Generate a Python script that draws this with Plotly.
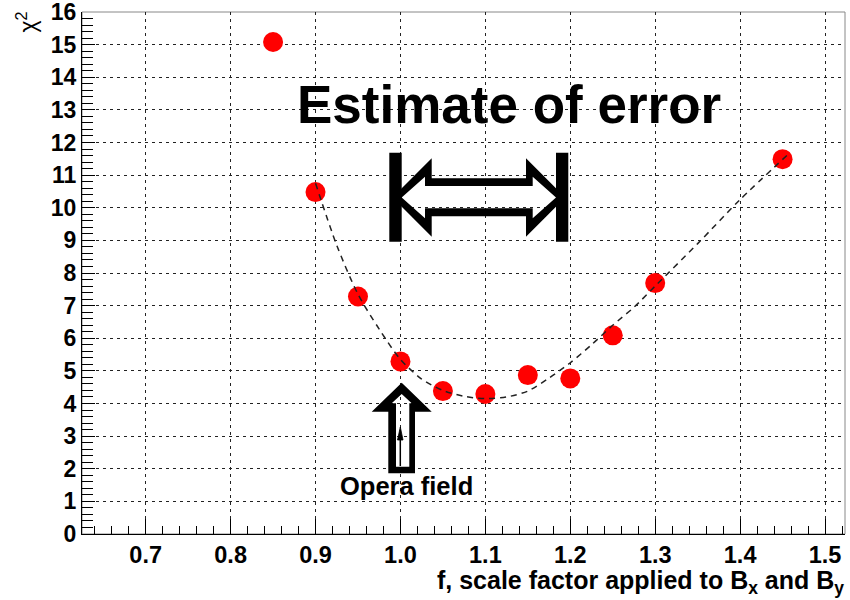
import plotly.graph_objects as go

# ---- data ----
f_points = [0.85, 0.90, 0.95, 1.00, 1.05, 1.10, 1.15, 1.20, 1.25, 1.30, 1.45]
chi2_points = [15.08, 10.48, 7.28, 5.29, 4.38, 4.29, 4.87, 4.77, 6.09, 7.69, 11.49]

fit_f = [0.90, 0.925, 0.95, 0.975, 1.00, 1.025, 1.05, 1.075, 1.10, 1.125, 1.15,
         1.175, 1.20, 1.225, 1.25, 1.275, 1.30, 1.35, 1.40, 1.455]
fit_chi2 = [10.75, 8.85, 7.35, 6.28, 5.35, 4.75, 4.40, 4.22, 4.15, 4.20, 4.38,
            4.78, 5.25, 5.80, 6.40, 6.95, 7.60, 8.90, 10.25, 11.60]

x_tick_vals = [0.7, 0.8, 0.9, 1.0, 1.1, 1.2, 1.3, 1.4, 1.5]
x_tick_text = ["0.7", "0.8", "0.9", "1.0", "1.1", "1.2", "1.3", "1.4", "1.5"]
y_tick_vals = list(range(0, 17))
y_tick_text = [str(v) for v in y_tick_vals]

# ---- layout geometry (reference pixels) ----
L, R, T, B = 82, 845, 12, 534
X_RANGE = [0.625, 1.5235]
Y_RANGE = [0, 16]


def X(px):
    return X_RANGE[0] + (px - L) / (R - L) * (X_RANGE[1] - X_RANGE[0])


def Y(py):
    return (B - py) / (B - T) * (Y_RANGE[1] - Y_RANGE[0])


def PX(px):
    return (px - L) / (R - L)


def PY(py):
    return (B - py) / (B - T)


def poly(points):
    return "M " + " L ".join(f"{X(a):.5f},{Y(b):.5f}" for a, b in points) + " Z"


FONT = "Liberation Sans, Arial, Helvetica, sans-serif"

fig = go.Figure()

fig.add_trace(go.Scatter(
    x=f_points, y=chi2_points, mode="markers",
    marker=dict(color="#ff0000", size=20, line=dict(width=0)),
    hoverinfo="skip", showlegend=False))

fig.add_trace(go.Scatter(
    x=fit_f, y=fit_chi2, mode="lines",
    line=dict(color="#222222", width=1.5, dash="6px,5px", shape="spline", smoothing=0.8),
    hoverinfo="skip", showlegend=False))

shapes = []
# frame (top/right gray)
shapes.append(dict(type="rect", xref="paper", yref="paper", x0=0, x1=1, y0=0, y1=1,
                   line=dict(color="#888888", width=1), layer="below"))

# thick end bars
for x0, x1 in [(389.3, 401.7), (556.0, 568.3)]:
    shapes.append(dict(type="rect", xref="x", yref="y",
                       x0=X(x0), x1=X(x1), y0=Y(241.7), y1=Y(152.7),
                       fillcolor="black", line=dict(width=0), layer="above"))

# double arrow outline: outer silhouette + inner hole (reverse orientation)
outer = [(392.5, 197.5), (431.7, 158.3), (431.7, 178.3), (526.0, 178.3), (526.0, 158.3),
         (565.2, 197.5), (526.0, 236.7), (526.0, 216.3), (431.7, 216.3), (431.7, 236.7)]
inner = [(401.7, 197.5), (425.0, 176.7), (425.0, 186.0), (532.7, 186.0), (532.7, 176.7),
         (556.0, 197.5), (532.7, 218.3), (532.7, 208.3), (425.0, 208.3), (425.0, 218.3)]
shapes.append(dict(type="path", xref="x", yref="y",
                   path=poly(outer) + " " + poly(inner[::-1]),
                   fillcolor="black", line=dict(width=0), layer="above"))

# upward arrow outline
up_outer = [(401.7, 382.7), (431.7, 411.7), (415.0, 411.7), (415.0, 473.3),
            (388.3, 473.3), (388.3, 411.7), (371.7, 411.7)]
up_inner = [(401.7, 394.0), (411.7, 403.3), (409.3, 403.3), (409.3, 466.7),
            (396.0, 466.7), (396.0, 403.3), (391.7, 403.3)]
shapes.append(dict(type="path", xref="x", yref="y",
                   path=poly(up_outer) + " " + poly(up_inner[::-1]),
                   fillcolor="black", line=dict(width=0), layer="above"))
# thin inner arrow
shapes.append(dict(type="line", xref="x", yref="y", x0=X(400.3), x1=X(400.3),
                   y0=Y(466), y1=Y(430), line=dict(color="black", width=1.5),
                   layer="above"))
shapes.append(dict(type="path", xref="x", yref="y",
                   path=poly([(397.5, 440), (400.3, 427), (403.0, 440)]),
                   fillcolor="black", line=dict(color="black", width=0.8), layer="above"))

annotations = [
    dict(text="<b>Estimate of error</b>", x=X(509), y=Y(104), xref="x", yref="y",
         showarrow=False, font=dict(family=FONT, size=53, color="black"),
         xanchor="center", yanchor="middle"),
    dict(text="<b>Opera field</b>", x=X(406), y=Y(486), xref="x", yref="y",
         showarrow=False, font=dict(family=FONT, size=25.5, color="black"),
         xanchor="center", yanchor="middle"),
    dict(text="<b>f, scale factor applied to B<sub>x</sub> and B<sub>y</sub></b>",
         x=PX(846), y=PY(582), xref="paper", yref="paper", showarrow=False,
         font=dict(family=FONT, size=25, color="black"),
         xanchor="right", yanchor="middle"),
    dict(text="χ<sup>2</sup>", x=PX(27), y=PY(10), xref="paper", yref="paper",
         xanchor="center", yanchor="top", textangle=-90, showarrow=False,
         font=dict(family=FONT, size=23, color="black")),
]

fig.update_layout(
    width=850, height=600,
    margin=dict(l=L, r=850 - R, t=T, b=600 - B, pad=0, autoexpand=False),
    paper_bgcolor="white", plot_bgcolor="white",
    shapes=shapes, annotations=annotations,
    showlegend=False,
    xaxis=dict(
        range=X_RANGE, tickvals=x_tick_vals, ticktext=x_tick_text,
        ticks="inside", ticklen=15, tickwidth=1, tickcolor="black",
        showline=True, linecolor="black", linewidth=1.2, mirror=False,
        showgrid=True, gridcolor="#222222", gridwidth=1, griddash="3px,4px",
        zeroline=False, automargin=False, ticklabeloverflow="allow",
        tickfont=dict(family=FONT, size=23.5, color="black", weight="bold"),
        minor=dict(dtick=0.02, tick0=0.6, ticks="inside", ticklen=8,
                   tickcolor="black", showgrid=False),
    ),
    yaxis=dict(
        range=Y_RANGE, tickvals=y_tick_vals, ticktext=y_tick_text,
        ticks="inside", ticklen=13, tickwidth=1, tickcolor="black",
        showline=True, linecolor="black", linewidth=1.2, mirror=False,
        showgrid=True, gridcolor="#222222", gridwidth=1, griddash="3px,4px",
        zeroline=False, automargin=False, ticklabeloverflow="allow",
        tickfont=dict(family=FONT, size=23, color="black", weight="bold"),
        minor=dict(dtick=0.2, tick0=0, ticks="inside", ticklen=11,
                   tickcolor="black", showgrid=False),
    ),
)

fig.write_html("out.html", config={"displayModeBar": False},
               post_script="document.body.style.margin='0px';document.body.style.overflow='hidden';")
